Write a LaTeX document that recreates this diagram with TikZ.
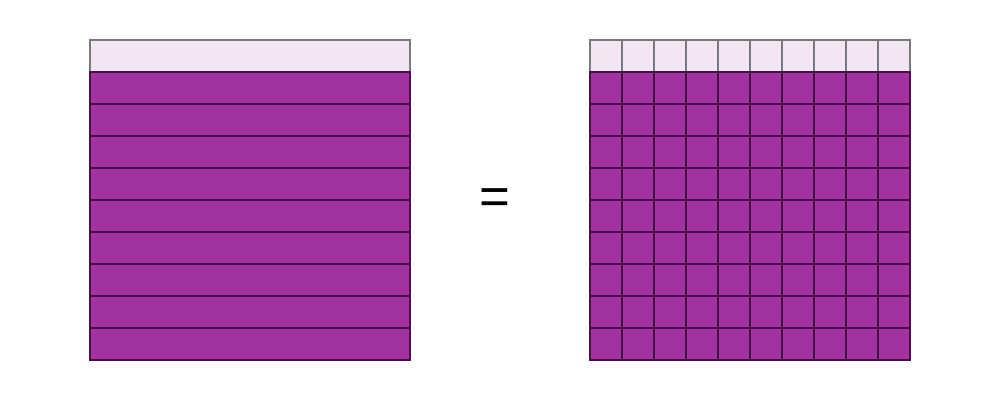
\documentclass[tikz,border=0pt]{standalone}
\usepackage{fontspec}
\setmainfont{Liberation Sans}
\definecolor{lightcell}{HTML}{F2E6F2}
\definecolor{purplecell}{HTML}{A033A0}
\definecolor{purpleedge}{HTML}{4A0F4A}
\definecolor{grayedge}{HTML}{7A7A7A}
\tikzset{
  lightbox/.style={fill=lightcell,draw=grayedge,line width=0.6pt},
  purplebox/.style={fill=purplecell,draw=purpleedge,line width=0.6pt},
  eqsign/.style={font=\fontsize{30}{36}\selectfont,inner sep=0pt}
}
\begin{document}
\begin{tikzpicture}[x=0.02cm,y=-0.02cm]
\useasboundingbox (0,0) rectangle (1000,400);
% left: rows
\draw[lightbox] (90,40) rectangle (410,72);
\foreach \r in {1,...,9}{
  \draw[purplebox] (90,{40+32*\r}) rectangle (410,{72+32*\r});
}
% right: grid
\foreach \c in {0,...,9}{
  \draw[lightbox] ({590+32*\c},40) rectangle ({622+32*\c},72);
  \foreach \r in {1,...,9}{
    \draw[purplebox] ({590+32*\c},{40+32*\r}) rectangle ({622+32*\c},{72+32*\r});
  }
}
\node[eqsign] (eq) at (495,202) {=};
\end{tikzpicture}
\end{document}
